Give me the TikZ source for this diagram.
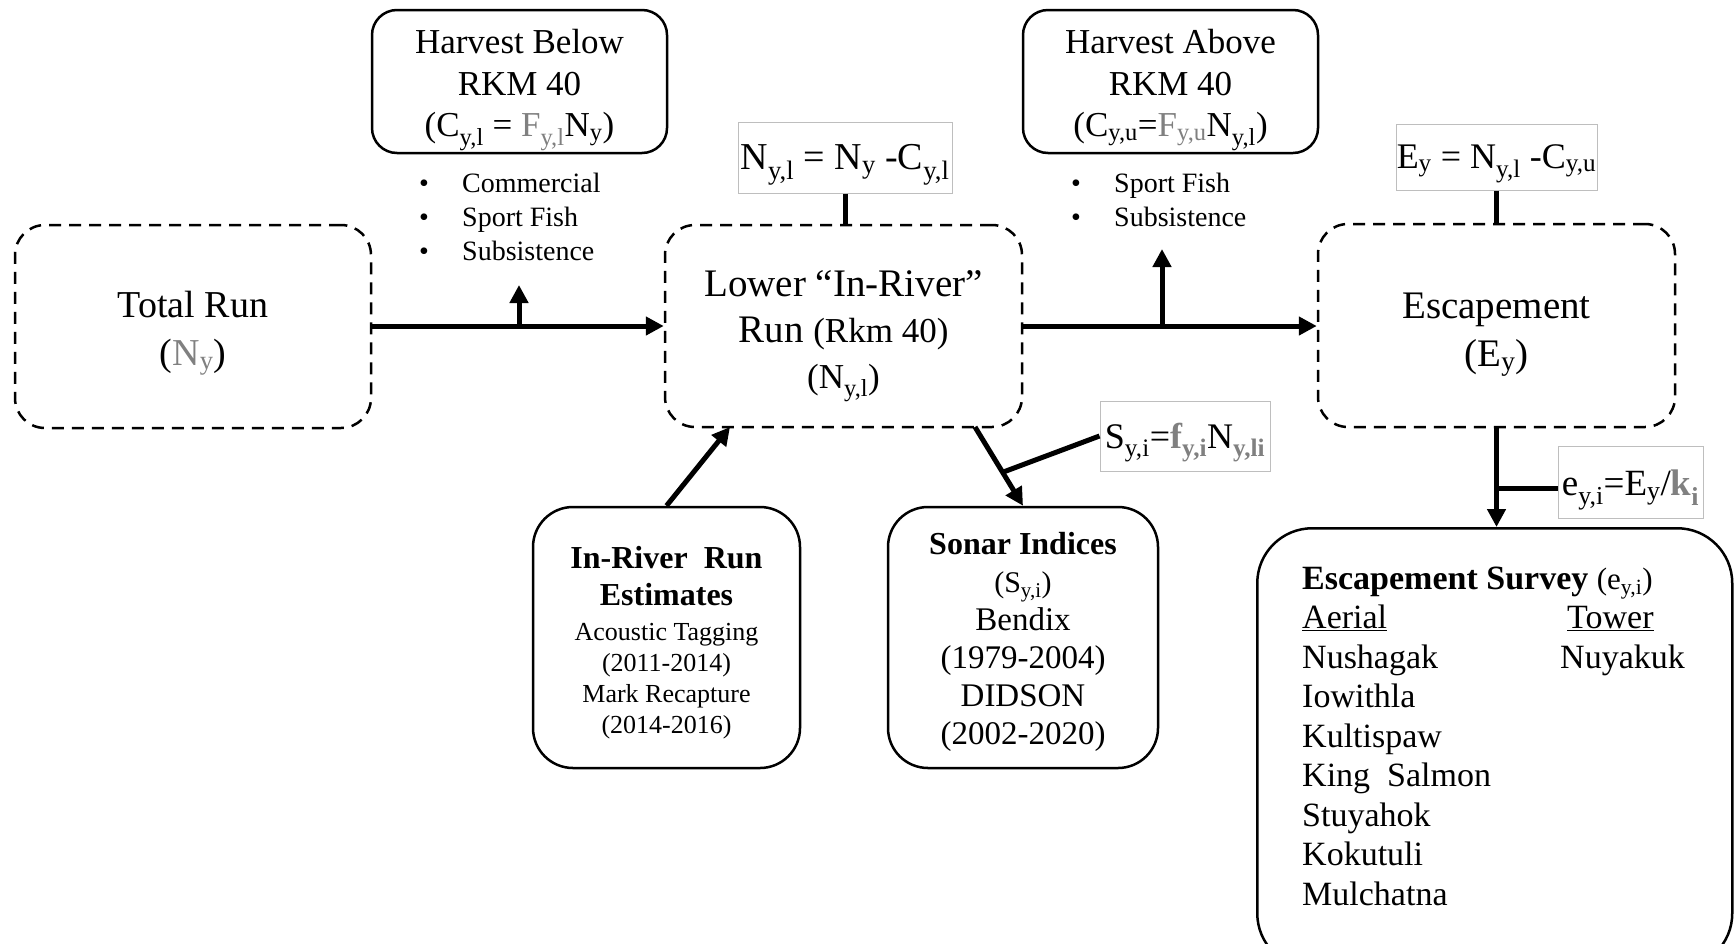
\documentclass[tikz,border=0pt]{standalone}
\usepackage{fontspec}
\setmainfont{Liberation Serif}
\usetikzlibrary{arrows.meta,calc}
\definecolor{fgray}{RGB}{128,128,128}
\definecolor{bgray}{RGB}{190,190,190}
\newcommand{\sbs}[1]{\textsubscript{#1}}
\newcommand{\fsz}[2]{\fontsize{#1}{#2}\selectfont}
\newcommand{\bulA}{\makebox[43pt][l]{•}}
\begin{document}
\begin{tikzpicture}[x=1pt,y=-1pt,
  dbox/.style={draw, dash pattern=on 12pt off 8pt, line width=2.5pt, rounded corners=30pt, inner sep=0pt},
  sbox/.style={draw, line width=2.5pt, inner sep=0pt},
  fbox/.style={draw=bgray, line width=1pt, inner sep=0pt},
  txt/.style={inner sep=0pt, align=center},
  plain/.style={inner sep=0pt, align=left},
  conn/.style={line width=5pt},
  arr/.style={conn, -{Triangle[length=18pt,width=18pt]}},
]
\useasboundingbox (0,0) rectangle (1734,943);
\clip (0,0) rectangle (1734,943);

% main dashed boxes
\node[dbox, minimum width=356pt, minimum height=203pt] (total) at (193,326.5) {};
\node[txt, font=\fsz{38}{48}] (totaltext) at ([yshift=-7pt]total.center)
  {Total Run\\(\textcolor{fgray}{N\sbs{y}})};
\node[dbox, minimum width=357pt, minimum height=202pt] (lower) at (843.5,326) {};
\node[txt, font=\fsz{39}{46}] (lowertext) at ([yshift=-10pt]lower.center)
  {Lower “In-River”\\Run {\fsz{35}{40}(Rkm 40)}\\{\fsz{35}{40}(N\sbs{y,l})}};
\node[dbox, minimum width=357pt, minimum height=203pt] (esc) at (1496.5,325.5) {};
\node[txt, font=\fsz{39}{48}] (esctext) at ([yshift=-9pt]esc.center)
  {Escapement\\(E\sbs{y})};

% harvest boxes
\node[sbox, rounded corners=25pt, minimum width=295pt, minimum height=143pt] (hbelow) at (519.5,81.5) {};
\node[txt, font=\fsz{35}{41.5}] (hbelowtext) at ([yshift=-8.5pt]hbelow.center)
  {Harvest Below\\RKM 40\\(C\sbs{y,l} = \textcolor{fgray}{F\sbs{y,l}}N\sbs{y})};
\node[sbox, rounded corners=25pt, minimum width=295pt, minimum height=143pt] (habove) at (1170.5,81.5) {};
\node[txt, font=\fsz{35}{41.5}] (habovetext) at ([yshift=-8.5pt]habove.center)
  {Harvest Above\\RKM 40\\(C\sbs{y,u}=\textcolor{fgray}{F\sbs{y,u}}N\sbs{y,l})};

% bullet lists
\node[plain, anchor=west, font=\fsz{28}{34}] (blist) at (419,217)
  {\bulA Commercial\\\bulA Sport Fish\\\bulA Subsistence};
\node[plain, anchor=west, font=\fsz{28}{34}] (alist) at (1071,200)
  {\bulA Sport Fish\\\bulA Subsistence};

% formula boxes
\node[fbox, minimum width=214pt, minimum height=71pt] (ny1) at (845,157.5) {};
\node[txt, font=\fsz{38}{44}] (ny1text) at ([yshift=-7pt]ny1.center)
  {N\sbs{y,l} = N\sbs{y} -C\sbs{y,l}};
\node[fbox, minimum width=201pt, minimum height=66pt] (ey) at (1496.5,157) {};
\node[txt, font=\fsz{36}{42}] (eytext) at ([yshift=-6.5pt]ey.center)
  {E\sbs{y} = N\sbs{y,l} -C\sbs{y,u}};
\node[fbox, minimum width=170pt, minimum height=70pt] (syi) at (1185,436) {};
\node[txt, font=\fsz{36}{42}] (syitext) at ([yshift=-6.5pt]syi.center)
  {S\sbs{y,i}=\textcolor{fgray}{\textbf{f\sbs{y,i}}}N\sbs{\textcolor{fgray}{\textbf{y,li}}}};
\node[fbox, minimum width=145pt, minimum height=72pt] (eyi) at (1630.5,482) {};
\node[txt, font=\fsz{37}{43}] (eyitext) at ([yshift=-8pt]eyi.center)
  {e\sbs{y,i}=E\sbs{y}/\textcolor{fgray}{\textbf{k\sbs{i}}}};

% lower boxes
\node[sbox, rounded corners=40pt, minimum width=267pt, minimum height=261pt] (inriver) at (666.5,637.5) {};
\node[txt, font=\fsz{26}{31}] (inrivertext) at ([yshift=-5pt]inriver.center)
  {{\fsz{32}{37}\bfseries In-River\ \ Run}\\[6pt]{\fsz{32}{37}\bfseries Estimates}\\[4pt]Acoustic Tagging\\(2011-2014)\\Mark Recapture\\(2014-2016)};
\node[sbox, rounded corners=40pt, minimum width=270pt, minimum height=261pt] (sonar) at (1023,637.5) {};
\node[txt, font=\fsz{33}{38}] (sonartext) at ([yshift=-4pt]sonar.center)
  {{\fsz{32}{37}\bfseries Sonar Indices}\\{\fsz{30}{36}(S\sbs{y,i})}\\Bendix\\(1979-2004)\\DIDSON\\(2002-2020)};

% escapement survey
\node[sbox, rounded corners=55pt, anchor=north west, minimum width=475pt, minimum height=440pt] (survey) at (1256,527) {};
\node[plain, anchor=base west, font=\fsz{34}{39.5}] (survtext) at (1302,589)
  {\begin{tabular}[t]{@{}p{258pt}@{}l@{}}
   \multicolumn{2}{@{}l@{}}{\textbf{Escapement Survey} {\fsz{31}{36}(e\sbs{y,i})}}\\
   \underline{Aerial} & \hspace{7pt}\underline{Tower}\\
   Nushagak & Nuyakuk\\
   Iowithla & \\
   Kultispaw & \\
   King\ \ Salmon & \\
   Stuyahok & \\
   Kokutuli & \\
   Mulchatna &
   \end{tabular}};

% coordinates for free ends
\coordinate (hb) at (519,326);
\coordinate (hbtip) at (519,285);
\coordinate (ha) at (1162,326);
\coordinate (hatip) at (1162,249);
\coordinate (lowin) at (730,427);
\coordinate (lowout) at (975,427);

% connectors
\draw[arr] (total.east |- hb) -- (lower.west |- hb);
\draw[arr] (hb) -- (hbtip);
\draw[arr] (lower.east |- ha) -- (esc.west |- ha);
\draw[arr] (ha) -- (hatip);
\draw[conn] (ny1.south) -- (ny1.south |- lower.north);
\draw[conn] (ey.south) -- (ey.south |- esc.north);
\draw[arr] (inriver.north) -- (lowin);
\draw[arr] (lowout) -- (sonar.north);
\draw[conn] (syi.west) -- ($(lowout)!0.575!(sonar.north)$);
\draw[arr] (esc.south) -- (esc.south |- survey.north);
\draw[conn] ([yshift=-6pt]eyi.west) -- ([yshift=-6pt]eyi.west -| esc.south);
\end{tikzpicture}
\end{document}
